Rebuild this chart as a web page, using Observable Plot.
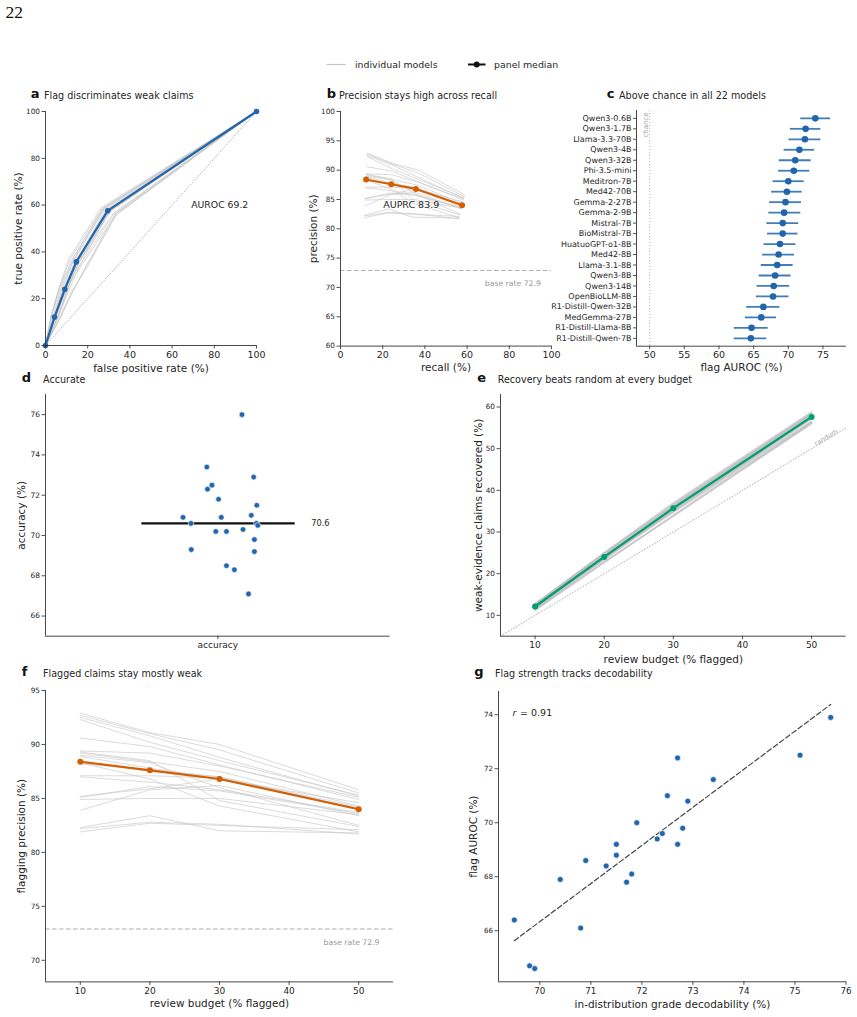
<!DOCTYPE html>
<html>
<head>
<meta charset="utf-8">
<script src="https://cdn.jsdelivr.net/npm/d3@7"></script>
<script src="https://cdn.jsdelivr.net/npm/@observablehq/plot@0.6"></script>
<style>
  html, body { margin: 0; background: #fff; }
  #page { position: relative; width: 857px; height: 1017px; overflow: hidden; background: #fff; font-family: "DejaVu Sans", sans-serif; }
</style>
</head>
<body>
<div id="page"></div>
<script>
// ---------------- data ----------------
const budgets = [10, 20, 30, 50];            // review budget (% of claims flagged)
const baseRate = 72.9;                       // share of weak-evidence claims (%)
const auprcMedian = 83.9;
const correlationR = "0.91";
const chance = 50;

const models = [
  "Qwen3-0.6B", "Qwen3-1.7B", "Llama-3.3-70B", "Qwen3-4B", "Qwen3-32B", "Phi-3.5-mini",
  "Meditron-7B", "Med42-70B", "Gemma-2-27B", "Gemma-2-9B", "Mistral-7B", "BioMistral-7B",
  "HuatuoGPT-o1-8B", "Med42-8B", "Llama-3.1-8B", "Qwen3-8B", "Qwen3-14B", "OpenBioLLM-8B",
  "R1-Distill-Qwen-32B", "MedGemma-27B", "R1-Distill-Llama-8B", "R1-Distill-Qwen-7B"
];
const flagAuroc = [73.9, 72.5, 72.4, 71.6, 71.0, 70.8, 70.0, 69.8, 69.6, 69.4, 69.2, 69.2,
                   68.8, 68.6, 68.4, 68.1, 67.9, 67.8, 66.4, 66.1, 64.7, 64.6];
const aurocLo = [71.8, 70.3, 70.1, 69.4, 68.7, 68.6, 67.8, 67.6, 67.3, 67.2, 66.9, 67.0,
                 66.5, 66.3, 66.1, 65.8, 65.5, 65.4, 64.0, 63.8, 62.2, 62.2];
const aurocHi = [76.1, 74.7, 74.7, 73.8, 73.3, 73.1, 72.3, 72.0, 71.9, 71.8, 71.5, 71.4,
                 71.1, 70.9, 70.7, 70.4, 70.2, 70.1, 68.8, 68.3, 67.1, 66.9];
const decodability = [75.7, 75.1, 72.7, 73.4, 72.5, 72.9, 71.9, 72.8, 72.4, 72.3, 72.7, 71.5,
                      71.5, 70.9, 71.3, 71.8, 70.4, 71.7, 69.5, 70.8, 69.8, 69.9];

const accuracyCategory = "accuracy";
const accuracy = [76.0, 73.4, 72.9, 72.5, 72.3, 71.8, 71.5, 70.9, 70.9, 71.0, 70.6,
                  70.6, 70.5, 70.2, 70.2, 70.3, 69.8, 69.3, 69.2, 68.5, 68.3, 67.1];
const accuracyJitter = [0.070, -0.032, 0.104, -0.017, -0.030, 0.002, 0.113, -0.101, 0.010, 0.097, -0.078,
                        0.112, 0.116, -0.006, 0.025, 0.073, 0.106, -0.077, 0.106, 0.025, 0.048, 0.089];

// flagging precision (%) of each model at the four review budgets
const precisionCurves = [
  [92.9, 91.1, 90.0, 85.8], [92.7, 91.0, 89.5, 85.5], [92.5, 90.8, 88.8, 85.2],
  [92.3, 90.2, 88.5, 85.3], [90.6, 89.8, 88.1, 84.9], [89.4, 89.2, 88.0, 85.1],
  [89.3, 88.5, 84.8, 82.4], [89.2, 88.4, 87.5, 84.3], [89.0, 88.3, 86.0, 82.5],
  [88.9, 87.8, 86.8, 84.1], [88.5, 87.5, 87.0, 84.2], [88.3, 86.8, 84.3, 81.9],
  [88.2, 87.7, 87.0, 84.0], [87.1, 87.1, 86.9, 84.0], [87.0, 86.5, 85.8, 83.7],
  [85.2, 85.9, 86.8, 84.6], [85.1, 86.1, 85.7, 83.6], [84.9, 85.0, 85.0, 83.5],
  [83.9, 85.8, 86.2, 83.4], [82.3, 83.4, 82.0, 81.8], [82.2, 82.8, 82.6, 81.7],
  [81.9, 82.7, 82.5, 82.1]
];

// ---------------- derived tables ----------------
const recallAt = (b, p) => b * p / baseRate;                 // share of weak claims recovered
const fprAt = (b, p) => b * (100 - p) / (100 - baseRate);    // share of strong claims flagged
const medianPrecision = budgets.map((b, j) => d3.median(precisionCurves, c => c[j]));

const curveRows = precisionCurves.flatMap((c, k) => budgets.map((b, j) => ({
  k, budget: b, precision: c[j], recall: recallAt(b, c[j]), fpr: fprAt(b, c[j])
})));
const medianRows = budgets.map((b, j) => ({
  budget: b, precision: medianPrecision[j], recall: recallAt(b, medianPrecision[j]), fpr: fprAt(b, medianPrecision[j])
}));
const rocRows = precisionCurves.flatMap((c, k) => [
  {k, fpr: 0, tpr: 0},
  ...curveRows.filter(r => r.k === k).map(r => ({k, fpr: r.fpr, tpr: r.recall})),
  {k, fpr: 100, tpr: 100}
]);
const rocMedian = [{fpr: 0, tpr: 0}, ...medianRows.map(r => ({fpr: r.fpr, tpr: r.recall})), {fpr: 100, tpr: 100}];
const modelRows = models.map((name, i) => ({
  name, i, auroc: flagAuroc[i], lo: aurocLo[i], hi: aurocHi[i], decod: decodability[i]
}));
const accRows = accuracy.map((v, i) => ({v, j: accuracyJitter[i]}));
const accMedian = d3.median(accuracy);

// ---------------- styling helpers ----------------
const BLUE = "#2166ac", ORANGE = "#d55e00", GREEN = "#009e73";
const GRAY = "#c6c6c6", INK = "#262626", SPINE = "#333", FAINT = "#a3a3a3";
const page = document.getElementById("page");
const intFormat = d3.format("d");

function mount(box, ml, spec) {
  const mr = 30, mt = 30, mb = 45;
  const plot = Plot.plot({
    width: box.r - box.l + ml + mr,
    height: box.b - box.t + mt + mb,
    marginLeft: ml, marginRight: mr, marginTop: mt, marginBottom: mb,
    style: {fontFamily: '"DejaVu Sans", sans-serif', fontSize: "9px", background: "transparent", overflow: "visible", color: INK},
    ...spec
  });
  plot.style.position = "absolute";
  plot.style.left = (box.l - ml) + "px";
  plot.style.top = (box.t - mt) + "px";
  page.appendChild(plot);
}
const spines = (x0, y0) => [
  Plot.ruleX([x0], {stroke: SPINE, strokeWidth: 0.9}),
  Plot.ruleY([y0], {stroke: SPINE, strokeWidth: 0.9})
];
const axes = ({xTicks, yTicks, xSize = 9.5, ySize = 7.3, xFormat = intFormat, yFormat = intFormat, ySizeTick = 3.5}) => [
  Plot.axisX({ticks: xTicks, tickFormat: xFormat, tickSize: 3.5, tickPadding: 2, fontSize: xSize, strokeWidth: 0.8, label: null}),
  Plot.axisY({ticks: yTicks, tickFormat: yFormat, tickSize: ySizeTick, tickPadding: 2, fontSize: ySize, strokeWidth: 0.8, label: null})
];
const xLabel = (t, dy, size = 10.5) => Plot.text([t], {text: d => d, frameAnchor: "bottom", dy, textAnchor: "middle", lineAnchor: "bottom", fontSize: size, fill: INK});
const yLabel = (t, dx, size = 10.5) => Plot.text([t], {text: d => d, frameAnchor: "left", dx, rotate: -90, textAnchor: "middle", lineAnchor: "middle", fontSize: size, fill: INK});

const boxes = {
  a: {l: 45.3, r: 256.3, t: 110.7, b: 344.7},
  b: {l: 340, r: 551, t: 110.7, b: 345.3},
  c: {l: 636, r: 846, t: 110, b: 345.7},
  d: {l: 45.3, r: 390, t: 394.3, b: 636},
  e: {l: 500.3, r: 846, t: 394.3, b: 636},
  f: {l: 45.3, r: 393.3, t: 690.3, b: 981.7},
  g: {l: 497.7, r: 845.7, t: 690.7, b: 981}
};

// ---- a: ROC curves ----
const unitDomain = [0, 100];
mount(boxes.a, 60, {
  x: {domain: unitDomain}, y: {domain: unitDomain},
  marks: [
    Plot.line(unitDomain.map(v => ({v})), {x: "v", y: "v", stroke: FAINT, strokeWidth: 0.8, strokeDasharray: "1,2"}),
    Plot.line(rocRows, {x: "fpr", y: "tpr", z: "k", stroke: GRAY, strokeWidth: 0.9, strokeOpacity: 0.7}),
    Plot.line(rocMedian, {x: "fpr", y: "tpr", stroke: BLUE, strokeWidth: 2.2}),
    Plot.dot(rocMedian, {x: "fpr", y: "tpr", r: 2.8, fill: BLUE}),
    Plot.text([d3.median(flagAuroc)], {text: d => `AUROC ${d.toFixed(1)}`, frameAnchor: "top-left", dx: 145.7, dy: 93.3, textAnchor: "start", lineAnchor: "middle", fontSize: 9.3, fill: INK}),
    ...spines(0, 0),
    ...axes({xTicks: d3.range(0, 101, 20), yTicks: d3.range(0, 101, 20)}),
    yLabel("true positive rate (%)", -27.3),
    xLabel("false positive rate (%)", 26)
  ]
});

// ---- b: precision vs recall ----
mount(boxes.b, 60, {
  x: {domain: [0, 100]}, y: {domain: [60, 100]},
  marks: [
    Plot.ruleY([baseRate], {stroke: FAINT, strokeWidth: 0.9, strokeDasharray: "4.5,2.5"}),
    Plot.text([baseRate], {y: d => d, text: d => `base rate ${d}`, frameAnchor: "right", textAnchor: "end", dx: -10.7, dy: 12.7, fontSize: 7.7, fill: "#999"}),
    Plot.line(curveRows, {x: "recall", y: "precision", z: "k", stroke: GRAY, strokeWidth: 0.9, strokeOpacity: 0.7}),
    Plot.line(medianRows, {x: "recall", y: "precision", stroke: ORANGE, strokeWidth: 2.2}),
    Plot.dot(medianRows, {x: "recall", y: "precision", r: 3, fill: ORANGE}),
    Plot.text([auprcMedian], {text: d => `AUPRC ${d}`, frameAnchor: "top-left", dx: 42.7, dy: 93, textAnchor: "start", lineAnchor: "middle", fontSize: 9.5, fill: INK}),
    ...spines(0, 60),
    ...axes({xTicks: d3.range(0, 101, 20), yTicks: d3.range(60, 101, 5)}),
    yLabel("precision (%)", -27.3),
    xLabel("recall (%)", 25.4)
  ]
});

// ---- c: per-model flag AUROC with intervals ----
mount(boxes.c, 110, {
  x: {domain: [48.1, 78.4]},
  y: {domain: [-0.75, models.length - 0.25], reverse: true},
  marks: [
    Plot.ruleX([chance], {stroke: FAINT, strokeWidth: 0.8, strokeDasharray: "1,2"}),
    Plot.text([chance], {x: d => d, text: () => "chance", frameAnchor: "top", rotate: -90, textAnchor: "end", lineAnchor: "middle", dx: -3.7, dy: 2, fontSize: 7, fill: "#a0a0a0"}),
    Plot.ruleY(modelRows, {y: "i", x1: "lo", x2: "hi", stroke: BLUE, strokeWidth: 1.8, strokeOpacity: 0.85}),
    Plot.dot(modelRows, {x: "auroc", y: "i", r: 3.3, fill: BLUE}),
    ...spines(48.1, models.length - 0.25),
    ...axes({xTicks: d3.range(50, 76, 5), yTicks: modelRows.map(d => d.i), yFormat: i => models[i], ySize: 8, ySizeTick: 3}),
    xLabel("flag AUROC (%)", 25)
  ]
});

// ---- d: accuracy strip ----
mount(boxes.d, 60, {
  x: {domain: [-0.5, 0.5]}, y: {domain: [65, 77]},
  marks: [
    Plot.ruleY([accMedian], {insetLeft: 96.4, insetRight: 95, stroke: "#111", strokeWidth: 2.2}),
    Plot.text([accMedian], {y: d => d, text: d => d.toFixed(1), frameAnchor: "right", textAnchor: "start", dx: -79, fontSize: 8.3, fill: INK}),
    Plot.dot(accRows, {x: "j", y: "v", r: 2.8, fill: BLUE, stroke: "white", strokeWidth: 0.6}),
    ...spines(-0.5, 65),
    ...axes({xTicks: [0], xFormat: () => accuracyCategory, xSize: 9, yTicks: d3.range(66, 77, 2), ySize: 7.5}),
    yLabel("accuracy (%)", -23.6)
  ]
});

// ---- e: recovery vs budget ----
const eDomain = [5, 55];
mount(boxes.e, 60, {
  x: {domain: eDomain}, y: {domain: [5, 63]},
  marks: [
    Plot.line(eDomain.map(v => ({v})), {x: "v", y: "v", stroke: FAINT, strokeWidth: 0.8, strokeDasharray: "1,2"}),
    Plot.text([{v: 52.1}], {x: "v", y: "v", text: () => "random", rotate: -31, dy: -2.5, fontSize: 6.8, fill: "#aaa"}),
    Plot.line(curveRows, {x: "budget", y: "recall", z: "k", stroke: "#bdbdbd", strokeWidth: 1.6, strokeOpacity: 0.5}),
    Plot.line(medianRows, {x: "budget", y: "recall", stroke: GREEN, strokeWidth: 2.2}),
    Plot.dot(medianRows, {x: "budget", y: "recall", r: 3, fill: GREEN}),
    ...spines(5, 5),
    ...axes({xTicks: d3.range(10, 51, 10), yTicks: d3.range(10, 61, 10), xSize: 9}),
    yLabel("weak-evidence claims recovered (%)", -22),
    xLabel("review budget (% flagged)", 26.7)
  ]
});

// ---- f: flagging precision vs budget ----
mount(boxes.f, 60, {
  x: {domain: [5, 55]}, y: {domain: [68, 95]},
  marks: [
    Plot.ruleY([baseRate], {stroke: FAINT, strokeWidth: 0.9, strokeDasharray: "4.5,2.5"}),
    Plot.text([baseRate], {y: d => d, text: d => `base rate ${d}`, frameAnchor: "right", textAnchor: "end", dx: -14, dy: 13.5, fontSize: 7.7, fill: "#999"}),
    Plot.line(curveRows, {x: "budget", y: "precision", z: "k", stroke: GRAY, strokeWidth: 0.9, strokeOpacity: 0.7}),
    Plot.line(medianRows, {x: "budget", y: "precision", stroke: ORANGE, strokeWidth: 2.2}),
    Plot.dot(medianRows, {x: "budget", y: "precision", r: 3, fill: ORANGE}),
    ...spines(5, 68),
    ...axes({xTicks: d3.range(10, 51, 10), yTicks: d3.range(70, 96, 5), xSize: 9}),
    yLabel("flagging precision (%)", -23.6),
    xLabel("review budget (% flagged)", 25)
  ]
});

// ---- g: flag AUROC vs decodability ----
mount(boxes.g, 60, {
  x: {domain: [69.19, 76.01]}, y: {domain: [64.11, 74.86]},
  marks: [
    Plot.linearRegressionY(modelRows, {x: "decod", y: "auroc", stroke: "#444", strokeWidth: 1.2, strokeDasharray: "5,2.7", ci: 0}),
    Plot.dot(modelRows, {x: "decod", y: "auroc", r: 3, fill: BLUE, stroke: "white", strokeWidth: 0.7}),
    Plot.text(["r"], {text: d => d, frameAnchor: "top-left", dx: 14, dy: 21, textAnchor: "start", lineAnchor: "middle", fontSize: 9.5, fontStyle: "italic", fill: INK}),
    Plot.text([correlationR], {text: d => `= ${d}`, frameAnchor: "top-left", dx: 21.6, dy: 21, textAnchor: "start", lineAnchor: "middle", fontSize: 9.5, fill: INK}),
    ...spines(69.19, 64.11),
    ...axes({xTicks: d3.range(70, 77, 1), yTicks: d3.range(66, 75, 2), xSize: 8.8, ySize: 7.1}),
    yLabel("flag AUROC (%)", -24.4),
    xLabel("in-distribution grade decodability (%)", 26.3)
  ]
});

// ---------------- panel titles, legend, page number ----------------
const overlay = d3.create("svg")
  .attr("width", 857).attr("height", 1017)
  .style("position", "absolute").style("left", "0px").style("top", "0px")
  .style("pointer-events", "none")
  .style("font-family", '"DejaVu Sans", sans-serif');

overlay.append("text").attr("x", 5.5).attr("y", 18.3)
  .style("font-family", '"Liberation Serif", serif').style("font-size", "17.5px").attr("fill", "#111").text("22");

const titles = [
  {letter: "a", lx: 30.7, text: "Flag discriminates weak claims", tx: 44, y: 99},
  {letter: "b", lx: 326.7, text: "Precision stays high across recall", tx: 339, y: 99},
  {letter: "c", lx: 606.7, text: "Above chance in all 22 models", tx: 619, y: 98.6},
  {letter: "d", lx: 21.7, text: "Accurate", tx: 43, y: 382.6},
  {letter: "e", lx: 477.3, text: "Recovery beats random at every budget", tx: 497.7, y: 382.6},
  {letter: "f", lx: 21.7, text: "Flagged claims stay mostly weak", tx: 43, y: 676.6},
  {letter: "g", lx: 474.3, text: "Flag strength tracks decodability", tx: 495, y: 676.6}
];
for (const t of titles) {
  overlay.append("text").attr("x", t.lx).attr("y", t.y - 0.6)
    .style("font-size", "13px").style("font-weight", "bold").attr("fill", "#111").text(t.letter);
  overlay.append("text").attr("x", t.tx).attr("y", t.y)
    .style("font-size", "9.6px").attr("fill", INK).text(t.text);
}

const legend = overlay.append("g");
legend.append("line").attr("x1", 326.7).attr("x2", 345.7).attr("y1", 64.5).attr("y2", 64.5)
  .attr("stroke", GRAY).attr("stroke-width", 1.2);
legend.append("text").attr("x", 355).attr("y", 67.6).style("font-size", "9.4px").attr("fill", INK).text("individual models");
legend.append("line").attr("x1", 468).attr("x2", 485.5).attr("y1", 64.5).attr("y2", 64.5)
  .attr("stroke", "#111").attr("stroke-width", 2);
legend.append("circle").attr("cx", 476.7).attr("cy", 64.5).attr("r", 3).attr("fill", "#111");
legend.append("text").attr("x", 494).attr("y", 67.6).style("font-size", "9.4px").attr("fill", INK).text("panel median");

page.appendChild(overlay.node());
</script>
</body>
</html>
